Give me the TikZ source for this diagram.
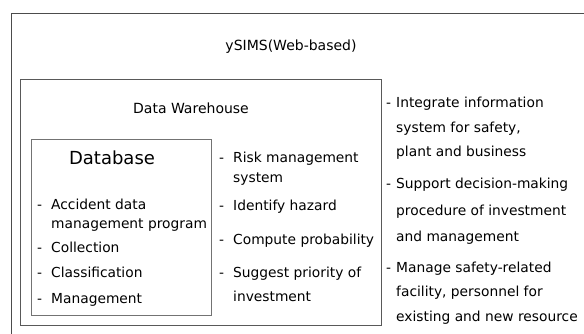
\documentclass[tikz,border=0pt]{standalone}
\usepackage{fontspec}
\setmainfont{DejaVu Sans}
\newcommand{\itemlines}[1]{\begin{tabular}[t]{@{}l@{}}#1\end{tabular}}
\begin{document}
\begin{tikzpicture}[x=1pt,y=-1pt,
    frame/.style={draw=black!65,line width=0.9pt},
    heading/.style={inner sep=0pt,anchor=base,font=\fontsize{14}{16}\selectfont},
    dashmark/.style={inner sep=0pt,anchor=base west,font=\fontsize{13.8}{18}\selectfont},
    item/.style={inner sep=0pt,anchor=base west,font=\fontsize{13.8}{18.5}\selectfont},
    wideitem/.style={item,font=\fontsize{13.8}{24.5}\selectfont}]
  \useasboundingbox[fill=white] (0,0) rectangle (584,334);
  \draw[frame,draw=black!70] (584,13) -- (11,13) -- (11,334);
  \draw[frame] (20,79) rectangle (381,325);
  \draw[frame,draw=black!55] (31,139) rectangle (211,315);
  \node[heading] (ysims) at (291,51) {ySIMS(Web-based)};
  \node[heading] (dw) at (191,114) {Data Warehouse};
  \node[heading,font=\fontsize{18}{20}\selectfont] (db) at (112,165) {Database};
  \node[dashmark] (dba) at (37,210) {-};
  \node[item] (acc) at (51,210) {\itemlines{Accident data\\management program}};
  \node[dashmark] (dbb) at (37,252) {-};
  \node[item] (col) at (51,252) {Collection};
  \node[dashmark] (dbc) at (37,277) {-};
  \node[item] (cls) at (51,277) {Classification};
  \node[dashmark] (dbd) at (37,303) {-};
  \node[item] (man) at (51,303) {Management};
  \node[dashmark] (dwa) at (219,163) {-};
  \node[item,font=\fontsize{13.8}{20}\selectfont] (risk) at (233,163) {\itemlines{Risk management\\system}};
  \node[dashmark] (dwb) at (219,211) {-};
  \node[item] (haz) at (233,211) {Identify hazard};
  \node[dashmark] (dwc) at (219,244) {-};
  \node[item] (prob) at (233,244) {Compute probability};
  \node[dashmark] (dwd) at (219,277) {-};
  \node[item,font=\fontsize{13.8}{24}\selectfont] (prio) at (233,277) {\itemlines{Suggest priority of\\investment}};
  \node[dashmark] (ya) at (386,108) {-};
  \node[wideitem] (integ) at (396,108) {\itemlines{Integrate information\\system for safety,\\plant and business}};
  \node[dashmark] (yb) at (386,189) {-};
  \node[wideitem,font=\fontsize{13.8}{26.5}\selectfont] (supp) at (396,189) {\itemlines{Support decision-making\\procedure of investment\\and management}};
  \node[dashmark] (yc) at (386,272) {-};
  \node[wideitem] (mng) at (396,272) {\itemlines{Manage safety-related\\facility, personnel for\\existing and new resource}};
\end{tikzpicture}
\end{document}
